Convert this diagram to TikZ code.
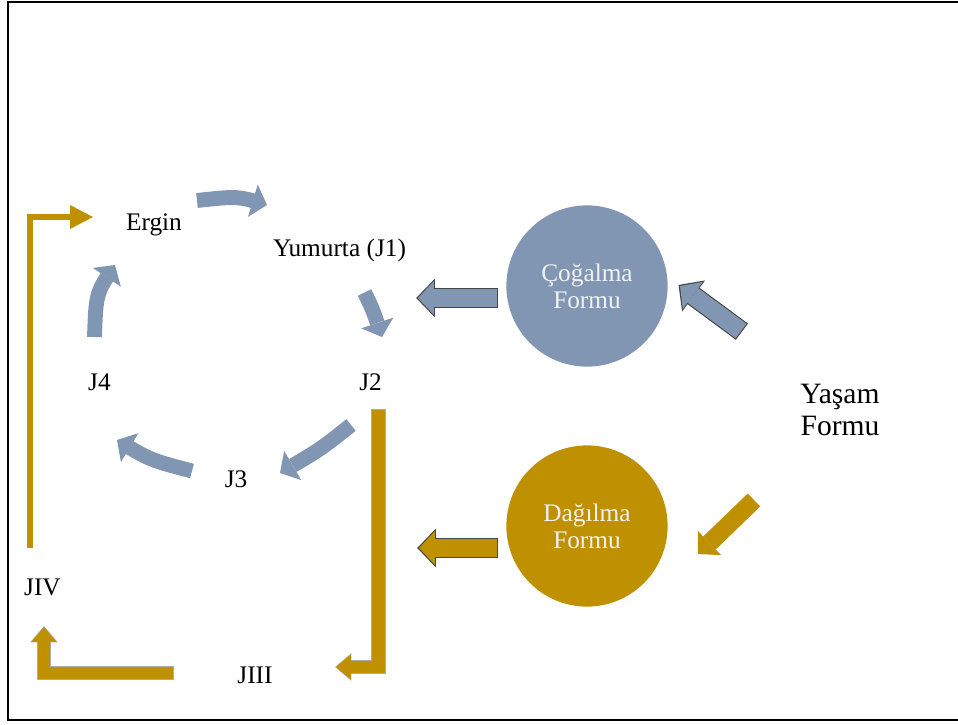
\documentclass[tikz,border=0pt]{standalone}
\usepackage{fontspec}
\setmainfont{Liberation Serif}
\usetikzlibrary{arrows.meta,bending}

\definecolor{cycblue}{RGB}{128,150,178}
\definecolor{formgold}{RGB}{191,144,0}
\definecolor{rimgray}{RGB}{70,70,70}

\tikzstyle{stage}=[inner sep=0pt,
                   anchor=base,
                   font=\fontsize{18}{19}\selectfont]
\tikzstyle{formcircle}=[circle,
                        inner sep=0pt,
                        minimum size=4.03cm,
                        align=center,
                        text=white!95!black,
                        font=\fontsize{18}{19}\selectfont]
\tikzstyle{cyclearrow}=[color=cycblue,
                        line width=10.6pt,
                        -{Triangle[length=10.5pt,width=24pt,line width=0pt,flex]}]
\tikzstyle{blockarrow}=[line width=12.8pt,
                        -{Triangle[length=11.3pt,width=24pt,line width=0pt]}]
\tikzstyle{rimmed}=[preaction={draw=rimgray,line width=14.4pt,
                        shorten >=-1.3pt,shorten <=-0.8pt,
                        -{Triangle[length=13.3pt,width=27.5pt,line width=0pt]}}]
\tikzstyle{goldbar}=[color=formgold,
                     line width=9.2pt,
                     line join=miter,
                     -{Triangle[length=10.6pt,width=18pt,line width=0pt]},
                     preaction={draw=rimgray!45,line width=10pt,line join=miter,
                        shorten >=-0.7pt,shorten <=-0.4pt,
                        -{Triangle[length=11.6pt,width=19.6pt,line width=0pt]}}]

\begin{document}
\begin{tikzpicture}[x=0.025cm,y=-0.025cm]
  \useasboundingbox (0,0) rectangle (958,724);
  % frame of the slide
  \draw[line width=1.4pt] (960,2) -- (8,2) -- (8,720) -- (960,720);

  % The stages of the life cycle:
  \node[stage] (ergin) at (154,230) {Ergin};
  \node[stage] (yum) at (339.5,256) {Yumurta (J1)};
  \node[stage] (jtwo) at (370.5,390) {J2};
  \node[stage] (jfour) at (99.5,390) {J4};
  \node[stage] (jthree) at (236,487) {J3};
  \node[stage] (jiv) at (42.5,595) {JIV};
  \node[stage] (jiii) at (255,683) {JIII};

  % The two forms and the life form:
  \node[formcircle,fill=cycblue] (cog) at (587,286) {Çoğalma\\Formu};
  \node[formcircle,fill=formgold] (dag) at (587,526) {Dağılma\\Formu};
  \node[align=center,inner sep=0pt,font=\fontsize{21}{22.5}\selectfont]
    (yasam) at (840,410) {Yaşam\\Formu};

  % free ends of the arrows
  \coordinate (erginout) at (197,200.5);
  \coordinate (yumin) at (267,205);
  \coordinate (yumout) at (364.5,292.5);
  \coordinate (jtwoin) at (382,337);
  \coordinate (jtwoout) at (351,425);
  \coordinate (jthreein) at (280,473);
  \coordinate (jthreeout) at (192,471);
  \coordinate (jfourin) at (117,440);
  \coordinate (jfourout) at (94.5,337);
  \coordinate (erginin) at (115,265);
  \coordinate (cogtail) at (497,298);
  \coordinate (cogtip) at (418,298);
  \coordinate (cogfrom) at (741,331);
  \coordinate (cogto) at (680,286);
  \coordinate (dagtail) at (497,548);
  \coordinate (dagtip) at (419,548);
  \coordinate (dagfrom) at (754,500);
  \coordinate (dagto) at (698,554);

  % the cycle:
  \draw[cyclearrow] (erginout) .. controls (238,196) .. (yumin);
  \draw[cyclearrow] (yumout) .. controls (373,310) .. (jtwoin);
  \draw[cyclearrow] (jtwoout) .. controls (321,449) .. (jthreein);
  \draw[cyclearrow] (jthreeout) .. controls (150,460) .. (jfourin);
  \draw[cyclearrow] (jfourout) .. controls (96,293) .. (erginin);

  % the forms feed the cycle:
  \draw[blockarrow,rimmed,color=cycblue] (cogtail) -- (cogtip);
  \draw[blockarrow,rimmed,color=cycblue] (cogfrom) -- (cogto);
  \draw[blockarrow,rimmed,color=formgold] (dagtail) -- (dagtip);
  \draw[blockarrow,color=formgold] (dagfrom) -- (dagto);

  % the dispersal path:
  \draw[goldbar] (378.5,410) |- (336,667);
  \draw[goldbar] (173,673) -| (44,627);
  \draw[color=formgold,line width=4.25pt,line join=miter,
        -{Triangle[length=16.3pt,width=17pt,line width=0pt]}]
    (30,548) |- (93,217);
\end{tikzpicture}
\end{document}
